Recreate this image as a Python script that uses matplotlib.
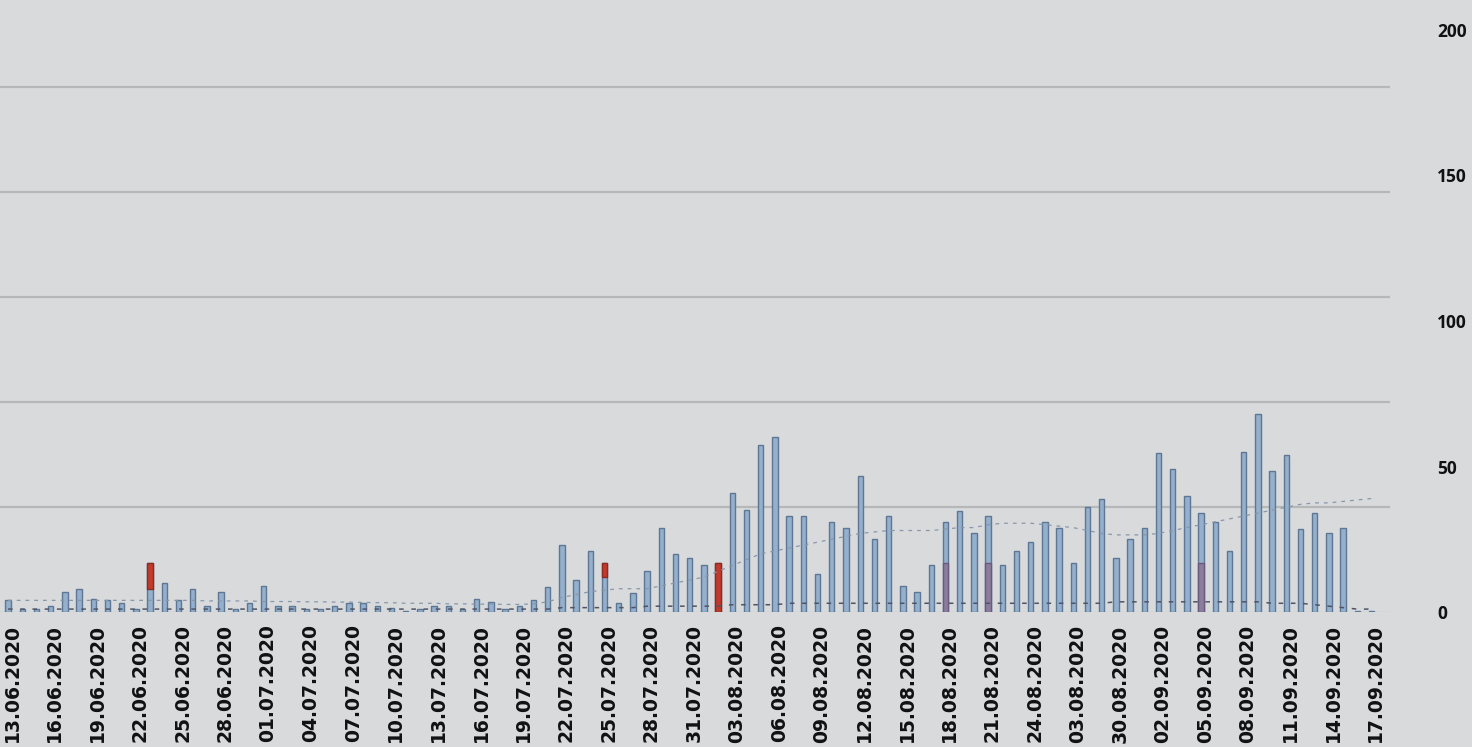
import matplotlib.pyplot as plt
import pandas as pd

# daily values, 12.06.2020 .. 16.09.2020
dates = pd.date_range('2020-06-12', '2020-09-16').strftime('%d.%m.%Y').tolist()

cases = [4, 1, 1, 2, 7, 8, 4.5, 4, 3, 1,
         17, 10, 4, 8, 2, 7, 1, 3, 9, 2,
         2, 1, 1, 2, 3, 3, 2, 1.5, 0.5, 1,
         2, 2, 1, 4.5, 3.5, 1, 2, 4, 8.5, 23,
         11, 21, 17, 3, 6.5, 14, 29, 20, 18.4, 16.3,
         17, 41, 35, 57.5, 60, 33, 33, 13, 31, 29,
         46.6, 25, 33, 9, 7, 16.3, 31, 34.7, 27, 33,
         16.3, 21, 24, 31, 29, 17, 36, 39, 18.4, 25,
         29, 54.5, 49, 40, 34, 31, 21, 55, 68, 48.6,
         54, 28.5, 34, 27, 29, 0.5, 0.3]

red_days = ['22.06.2020', '24.07.2020', '01.08.2020']
red_vals = [9, 5, 17]

purple_days = ['17.08.2020', '20.08.2020', '04.09.2020']
purple_vals = [17, 17, 17]

trend = [4, 4, 4, 4, 4, 4, 4, 4, 4, 4, 4,
         4, 4, 4, 3.8, 3.8, 3.8, 3.8, 3.6, 3.6, 3.6, 3.5,
         3.5, 3.4, 3.4, 3.3, 3.2, 3.2, 3, 3, 3, 2.8, 2.8,
         2.7, 2.7, 2.6, 2.6, 2.8, 3.5, 5, 6, 7, 7.5, 8,
         8, 8, 9, 10, 11, 12, 14, 16, 18, 20, 21,
         22, 23, 24, 25, 26, 27, 27.5, 28, 28, 28, 28,
         28.5, 29, 29, 30, 30.5, 30.5, 30.5, 30, 29.5, 29, 28,
         27, 26.5, 26.5, 26.5, 27, 28, 29, 30, 31, 32, 33,
         34, 35, 36, 37, 37.5, 37.5, 38, 38.5, 39]

deaths = [1, 1, 1, 1, 1, 1, 1, 1, 1, 1, 1,
          1, 1, 1, 1, 1, 1, 1, 1, 1, 1, 1,
          1, 1, 1, 1, 1, 1, 1, 1, 1, 1, 1,
          1, 1, 1, 1, 1, 1, 1.5, 1.5, 1.5, 1.5, 1.5,
          1.5, 2, 2, 2, 2, 2, 2, 2.5, 2.5, 2.5, 2.5,
          3, 3, 3, 3, 3, 3, 3, 3, 3, 3, 3,
          3, 3, 3, 3, 3, 3, 3, 3, 3, 3, 3,
          3, 3.5, 3.5, 3.5, 3.5, 3.5, 3.5, 3.5, 3.5, 3.5, 3.5,
          3.5, 3, 3, 3, 2.5, 2, 1.5, 1, 1]

tick_labels = ['13.06.2020', '16.06.2020', '19.06.2020', '22.06.2020', '25.06.2020',
               '28.06.2020', '01.07.2020', '04.07.2020', '07.07.2020', '10.07.2020',
               '13.07.2020', '16.07.2020', '19.07.2020', '22.07.2020', '25.07.2020',
               '28.07.2020', '31.07.2020', '03.08.2020', '06.08.2020', '09.08.2020',
               '12.08.2020', '15.08.2020', '18.08.2020', '21.08.2020', '24.08.2020',
               '03.08.2020', '30.08.2020', '02.09.2020', '05.09.2020', '08.09.2020',
               '11.09.2020', '14.09.2020', '17.09.2020']
right_ticks = [0, 50, 100, 150, 200]

bg = '#d9dadc'
x = list(range(len(dates)))
rect = [0, 1 - 612 / 747, 1390 / 1472, (612 - 30) / 747]

fig = plt.figure(figsize=(14.72, 7.47), dpi=100, facecolor=bg)

# gridlines come from a hidden secondary scale
gax = fig.add_axes(rect)
gax.set_facecolor(bg)
gax.set_ylim(0, 5.545)
gax.set_xlim(0, 1)
for g in [1, 2, 3, 4, 5]:
    gax.axhline(g, color='#b5b7b9', lw=1.6, zorder=0)
gax.axhline(0, color='#c4c6c8', lw=1.0, zorder=0)
gax.set_xticks([])
gax.set_yticks([])
for s in gax.spines.values():
    s.set_visible(False)

ax = fig.add_axes(rect)
ax.set_facecolor('none')

ax.bar(x, cases, width=0.38, color='#94b0cd', edgecolor='#5d7794', linewidth=1.0, zorder=2)

px = [dates.index(d) for d in purple_days]
ax.bar(px, purple_vals, width=0.38, color='#8d7d9c', edgecolor='#6a5a7e', linewidth=1.0, zorder=3)

rx = [dates.index(d) for d in red_days]
rb = [cases[i] - v for i, v in zip(rx, red_vals)]
ax.bar(rx, red_vals, bottom=rb, width=0.38, color='#c23a2c', edgecolor='#8f2a22', linewidth=1.0, zorder=3)

ax.plot(x, trend, color='#8797aa', lw=0.9, ls=(0, (3, 4)), zorder=4)
ax.plot(x, deaths, color='#4f5566', lw=1.1, ls=(0, (3, 5)), zorder=4)

ax.set_xlim(-0.563, 97.3)
ax.set_ylim(0, 200)

ax.yaxis.tick_right()
ax.set_yticks(right_ticks)
ax.set_yticklabels([str(v) for v in right_ticks], fontfamily='Open Sans',
                   fontweight='bold', fontsize=12.5, color='#111111')
ax.tick_params(axis='y', length=0, pad=34)

tick_pos = [0.3 + 3 * k for k in range(len(tick_labels))]
ax.set_xticks(tick_pos)
ax.set_xticklabels(tick_labels, rotation=90, fontsize=13.5, fontweight='bold', color='#111111')
ax.tick_params(axis='x', length=0, pad=9)

for s in ax.spines.values():
    s.set_visible(False)

fig.savefig('out.png', dpi=100, facecolor=bg)
